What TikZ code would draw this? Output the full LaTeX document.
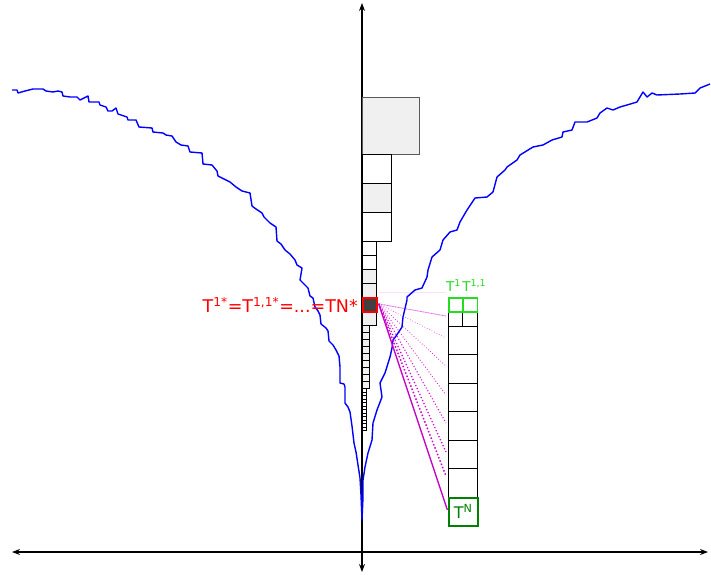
\documentclass[tikz,border=0pt]{standalone}
\usepackage{fontspec}
\setmainfont{DejaVu Sans}
\definecolor{CurveBlue}{RGB}{0,0,255}
\definecolor{LightFill}{RGB}{240,240,240}
\definecolor{DarkFill}{RGB}{64,64,64}
\definecolor{OptRed}{RGB}{255,0,0}
\definecolor{LiteGreen}{RGB}{34,221,34}
\definecolor{DeepGreen}{RGB}{0,128,0}
\definecolor{FanMagenta}{RGB}{210,0,210}
\usetikzlibrary{arrows.meta, positioning, calc}

\begin{document}
\begin{tikzpicture}[x=1pt, y=-1pt,
	eje/.style={{Stealth[length=8pt,width=6pt]}-{Stealth[length=8pt,width=6pt]}, line width=1.1pt},
	curva/.style={draw=CurveBlue, line width=1.4pt, line join=round},
	caja/.style={rectangle, draw=black, line width=1.1pt, inner sep=0pt, anchor=north west},
	optbox/.style={caja, fill=DarkFill, draw=OptRed, line width=1.7pt, minimum size=14pt},
	gbox/.style={caja, draw=LiteGreen, line width=1.6pt, minimum size=14.25pt},
	glab/.style={text=LiteGreen, inner sep=0pt, anchor=south west, font=\fontsize{13.5}{15}\selectfont},
	fan/.style={FanMagenta, dotted}]

	\useasboundingbox (0,0) rectangle (711,576);

	% ejes
	\coordinate (xl) at (12,552);  \coordinate (xr) at (708,552);
	\coordinate (yb) at (362,572); \coordinate (yt) at (362,3);
	\draw[eje] (xl) -- (xr);
	\draw[eje] (yb) -- (yt);

	% curva
	\draw[curva] plot coordinates {(12,90) (17,90) (18,93) (25,91) (33,89) (43,89) (46,91)
		(53,92) (58,91) (62,92) (63,96) (70,97) (77,97) (80,100) (88,96) (89,102) (99,102)
		(100,105) (106,107) (108,111) (112,111) (116,108) (118,114) (127,117) (128,120)
		(136,120) (139,127) (152,128) (153,132) (163,133) (166,135) (172,136) (176,142)
		(181,145) (188,146) (190,152) (202,153) (203,164) (212,165) (217,171) (218,176)
		(224,179) (230,182) (236,187) (242,191) (250,193) (252,206) (256,209) (262,213)
		(264,217) (270,223) (276,227) (277,241) (281,244) (285,250) (290,254) (295,260)
		(297,265) (302,268) (300,280) (305,285) (308,288) (310,296) (313,298) (315,307)
		(318,311) (320,315) (321,324) (326,328) (328,331) (329,341) (333,345) (336,350)
		(339,356) (340,367) (340,383) (344,384) (345,387) (345,403) (348,407) (350,412)
		(352,426) (354,443) (356,452) (358,465) (360,478) (361,495) (362,520)
		(363,497) (363,480) (365,467) (368,453) (372,440) (373,423) (377,410) (382,397)
		(380,383) (385,373) (390,357) (392,348) (393,340) (396,336) (402,327) (403,317)
		(407,300) (407,297) (415,290) (422,288) (427,277) (428,270) (432,257) (440,250)
		(443,240) (450,232) (457,230) (460,222) (467,210) (475,198) (487,197) (493,192)
		(497,177) (505,170) (507,167) (517,160) (520,155) (533,147) (543,145) (552,140)
		(562,137) (563,132) (572,130) (575,122) (587,122) (597,118) (600,113) (607,108)
		(613,110) (620,107) (627,105) (637,102) (643,92) (647,97) (652,93) (657,95)
		(680,94) (695,93) (700,88) (710,84)};

	% columna de cajas
	\node[caja, fill=LightFill, draw=black!65, minimum size=57pt] (q0) at (362,97) {};
	\foreach \i/\f in {0/white,1/LightFill,2/white}
		\node[caja, fill=\f, minimum size=29pt] (qa\i) at (362,154+29*\i) {};
	\foreach \i/\f in {0/white,1/white,2/LightFill,3/LightFill,5/LightFill}
		\node[caja, fill=\f, minimum size=14pt] (qb\i) at (362,241+14*\i) {};
	\foreach \i in {0,...,8}
		\node[caja, fill=LightFill, line width=0.9pt, minimum size=7pt] (qc\i) at (362,325+7*\i) {};
	\foreach \i in {0,...,11}
		\node[caja, fill=white, line width=0.6pt, minimum size=3.5pt] (qd\i) at (362,388+3.5*\i) {};
	\node[optbox] (opt) at (362,297) {};
	\node[text=OptRed, inner sep=0pt, left=4pt of opt, font=\fontsize{17.5}{20}\selectfont] (lbl)
		{T\textsuperscript{1*}=T\textsuperscript{1,1*}=...=TN*};

	% cajas de la derecha
	\node[caja, minimum size=14.25pt] (h1) at (448,311.25) {};
	\node[caja, minimum size=14.25pt] (h2) at (462.25,311.25) {};
	\foreach \i in {0,...,5}
		\node[caja, minimum size=28.5pt] (r\i) at (448,325.5+28.5*\i) {};
	\node[gbox] (g1) at (448,297) {};
	\node[gbox] (g2) at (462.25,297) {};
	\node[glab] (l1) at ($(g1.north west)+(-2,-5)$) {T\textsuperscript{1}};
	\node[glab] (l2) at ($(g2.north west)+(0,-5)$) {T\textsuperscript{1,1}};
	\node[caja, draw=DeepGreen, line width=2pt, minimum size=28.5pt, text=DeepGreen,
		font=\fontsize{16}{18}\selectfont] (tn) at (448,496.5) {T\textsuperscript{N}};

	% abanico
	\coordinate (fo) at ($(opt.east)+(1,-1)$);
	\coordinate (ha) at (378,292);  \coordinate (hb) at (446,292);
	\draw[FanMagenta, opacity=0.12, line width=0.8pt] (ha) -- (hb);
	\foreach \y/\w/\o [count=\k] in {316/0.8/0.35, 338/0.7/0.7, 366/0.8/0.8, 395/0.9/0.85,
		423/1.1/0.9, 452/1.3/0.95, 476/1.5/1} {
		\coordinate (f\k) at (446,\y);
		\draw[fan, line width=\w pt, opacity=\o] (fo) -- (f\k);
	}
	\draw[FanMagenta!95!black, line width=1.3pt, shorten >=2pt] (fo) -- (tn.west);
	\draw[FanMagenta, line width=0.8pt, opacity=0.4] (fo) -- (f1);
\end{tikzpicture}
\end{document}
